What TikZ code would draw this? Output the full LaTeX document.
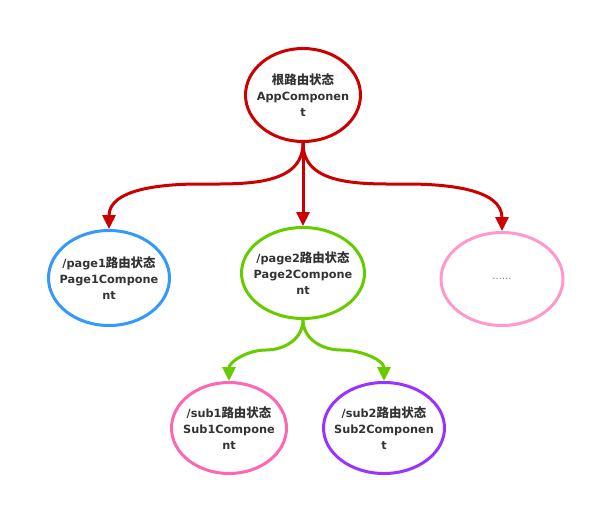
\documentclass[tikz,border=0pt]{standalone}
\usepackage{fontspec}
\setmainfont{DejaVu Sans}
\newfontfamily\cjk{Noto Sans CJK SC}[Scale=1.1]
\usetikzlibrary{shapes.geometric,arrows.meta}

\definecolor{rootred}{HTML}{CC0000}
\definecolor{pageblue}{HTML}{3399FF}
\definecolor{pagegreen}{HTML}{66CC00}
\definecolor{morepink}{HTML}{FF99CC}
\definecolor{subpink}{HTML}{FF66B2}
\definecolor{subpurple}{HTML}{9933FF}
\definecolor{textgray}{HTML}{333333}

\tikzset{
	state/.style={ellipse, draw, line width=3pt, inner sep=0pt},
	statetext/.style={text=textgray, align=center, inner sep=0pt,
		font=\bfseries\fontsize{11.3}{16}\selectfont},
	link/.style={line width=3pt, -{Triangle[length=14pt,width=13pt]}}
}

\begin{document}
\begin{tikzpicture}[x=1pt,y=-1pt]
	\useasboundingbox (0,0) rectangle (596,506);

	% route states
	\node[state, draw=rootred, minimum width=115pt, minimum height=93pt,
		label={[statetext]center:{\cjk 根路由状态}\\AppComponen\\t}] (root) at (303,95) {};
	\node[state, draw=pageblue, minimum width=121pt, minimum height=95pt,
		label={[statetext]center:/page1{\cjk 路由状态}\\Page1Compone\\nt}] (page1) at (109,278) {};
	\node[state, draw=pagegreen, minimum width=123pt, minimum height=91pt,
		label={[statetext]center:/page2{\cjk 路由状态}\\Page2Compone\\nt}] (page2) at (303,273) {};
	\node[state, draw=morepink, minimum width=122pt, minimum height=93pt,
		label={[text=gray, font=\fontsize{10}{12}\selectfont]center:......}] (more) at (502,279) {};
	\node[state, draw=subpink, minimum width=115pt, minimum height=91pt,
		label={[statetext]center:/sub1{\cjk 路由状态}\\Sub1Compone\\nt}] (sub1) at (229,428) {};
	\node[state, draw=subpurple, minimum width=121pt, minimum height=91pt,
		label={[statetext]center:/sub2{\cjk 路由状态}\\Sub2Componen\\t}] (sub2) at (384,428) {};

	% bends
	\coordinate (lbend) at (200,184);
	\coordinate (rbend) at (406,184);
	\coordinate (glbend) at (266,350);
	\coordinate (grbend) at (341,350);

	% links
	\draw[link, rootred] (root.south) to[out=-90,in=0] (lbend) to[out=180,in=90] (page1.north);
	\draw[link, rootred] (root.south) -- (page2.north);
	\draw[link, rootred] (root.south) to[out=-90,in=180] (rbend) to[out=0,in=90] (more.north);
	\draw[link, pagegreen] (page2.south) to[out=-90,in=0] (glbend) to[out=180,in=90] (sub1.north);
	\draw[link, pagegreen] (page2.south) to[out=-90,in=180] (grbend) to[out=0,in=90] (sub2.north);
\end{tikzpicture}
\end{document}
